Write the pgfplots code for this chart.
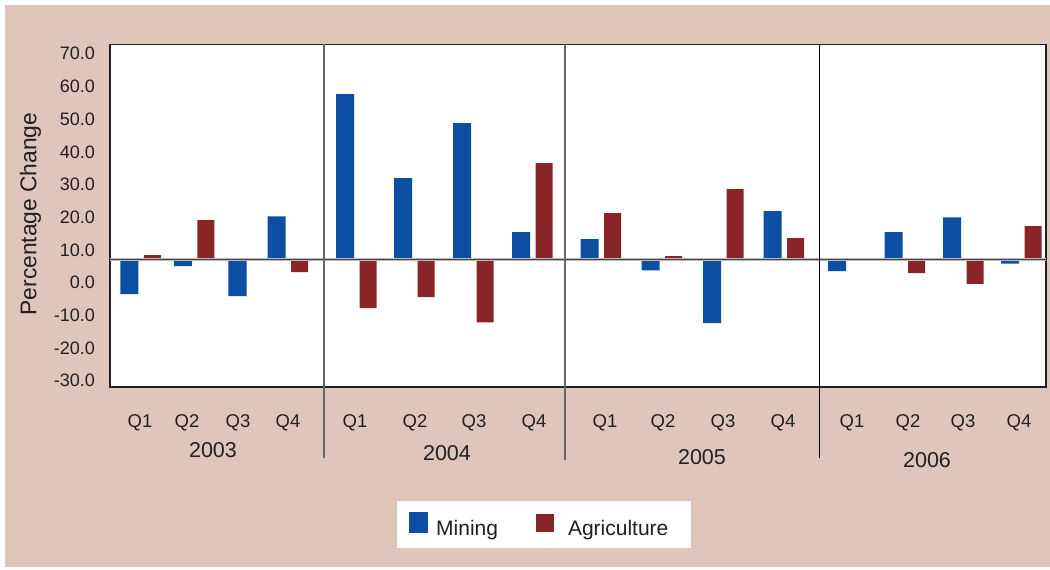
\documentclass[border=0pt]{standalone}
\usepackage{fontspec}
\setmainfont{Liberation Sans}
\usepackage{pgfplots}
\pgfplotsset{compat=1.18}
\usepackage{pgfplotstable}

\definecolor{panel}{RGB}{224,197,186}
\definecolor{mining}{RGB}{11,78,162}
\definecolor{agri}{RGB}{137,37,41}
\definecolor{ink}{RGB}{35,31,32}

% Quarterly percentage change; x is the centre of each quarter's pair of bars
\pgfplotstableread{
x       mining   agri
141     -10.7     1.2
194.5    -2.1    11.9
249     -11.3     0.0
288      13.1    -4.0
356.5    50.5   -15.0
414.5    24.8   -11.6
473.5    41.6   -19.3
532.5     8.3    29.4
601       6.1    14.1
662      -3.4     0.9
723.5   -19.6    21.4
784      14.7     6.4
848.5    -3.7     0.0
905       8.3    -4.3
963.5    12.8    -7.6
1021.5   -1.4    10.1
}\quarterly

\begin{document}
\begin{tikzpicture}
% page and shaded panel (1 unit = 1pt, y pointing down, origin at the plot's lower-left corner)
\begin{scope}[x=1pt,y=-1pt,shift={(-110pt,387pt)}]
  \fill[white] (0,0) rectangle (1050,570);
  \fill[panel] (5,5) rectangle (1050,567);
\end{scope}

\begin{axis}[
  x=1pt, y=3.27pt,
  xmin=110, xmax=1046, ymin=-39.1, ymax=65.7,
  axis background/.style={fill=white},
  axis line style={ink, line width=1.2pt},
  major tick length=0pt,
  xtick={140,187,238,288,355,415,474,534,605,663,723,783,852,908,963,1019},
  xticklabels={Q1,Q2,Q3,Q4,Q1,Q2,Q3,Q4,Q1,Q2,Q3,Q4,Q1,Q2,Q3,Q4},
  xticklabel style={anchor=base, inner sep=0pt, yshift=-40.5pt, font=\fontsize{18.5}{20}\selectfont},
  ytick={-37.2,-27.2,-17.2,-7.2,2.8,12.8,22.8,32.8,42.8,52.8,62.8},
  yticklabels={-30.0,-20.0,-10.0,0.0,10.0,20.0,30.0,40.0,50.0,60.0,70.0},
  yticklabel style={anchor=east, inner sep=0pt, xshift=-15pt, font=\fontsize{18}{20}\selectfont},
  tick label style={text=ink},
  clip=false,
  legend columns=2,
  legend style={at={(0.3066,-0.402)}, anchor=west, draw=none, fill=white,
    font=\fontsize{21}{24}\selectfont, text=ink,
    inner xsep=12pt, inner ysep=11pt,
    nodes={inner sep=0pt},
    /tikz/column 1/.append style={column sep=8pt},
    /tikz/column 2/.append style={column sep=38pt},
    /tikz/column 3/.append style={column sep=14pt}},
]
\addplot[ybar, bar width=18pt, bar shift=-11.5pt, fill=mining, draw=none,
  legend image code/.code={\fill[mining] (0pt,-4pt) rectangle (19pt,17pt);}]
  table[x=x, y=mining] {\quarterly};
\addplot[ybar, bar width=17pt, bar shift=11.5pt, fill=agri, draw=none,
  legend image code/.code={\fill[agri] (0pt,-3pt) rectangle (18pt,15pt);}]
  table[x=x, y=agri] {\quarterly};
\legend{Mining, Agriculture\rule{11pt}{0pt}}
% zero line over the bars
\draw[black!28, line width=2.8pt] (axis cs:110,0) -- (axis cs:1046,0);
\draw[black!72, line width=1.2pt] (axis cs:110,0) -- (axis cs:1046,0);
\end{axis}

% year separators, year labels and the value-axis title
\begin{scope}[x=1pt,y=-1pt,shift={(-110pt,387pt)}]
  \draw[black!60, line width=1.3pt] (324,44) -- (324,458);
  \draw[black!60, line width=1.3pt] (565,44) -- (565,460);
  \draw[black, line width=1pt] (819,44) -- (819,458);
  \begin{scope}[every node/.style={font=\fontsize{21.5}{24}\selectfont, text=ink, inner sep=0pt}]
    \node at (213,450) {2003};
    \node at (447,453) {2004};
    \node at (702,457) {2005};
    \node at (927,460) {2006};
    \node[rotate=90, anchor=base, font=\fontsize{22.8}{26}\selectfont] at (36.5,214) {Percentage Change};
  \end{scope}
\end{scope}
\end{tikzpicture}
\end{document}
